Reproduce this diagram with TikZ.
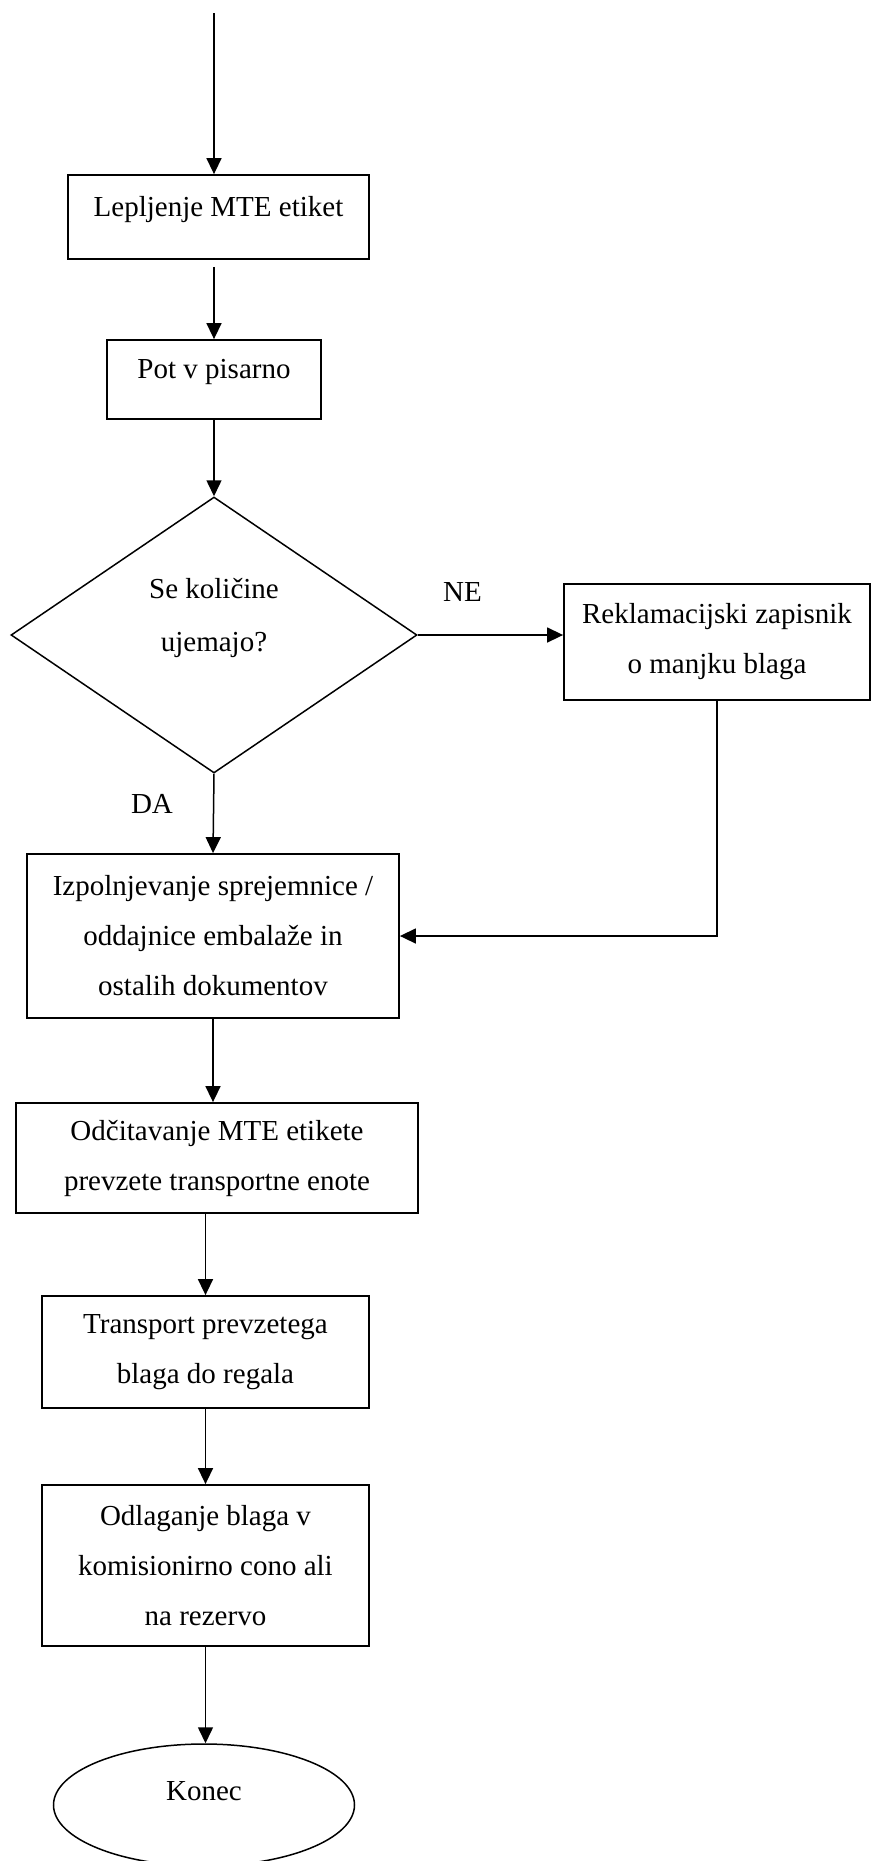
\documentclass[tikz,border=0pt]{standalone}
\usepackage{fontspec}
\setmainfont{Liberation Serif}
\usetikzlibrary{arrows.meta,shapes.geometric}

\begin{document}
\begin{tikzpicture}[x=1pt,y=1pt]
\tikzstyle{every node}+=[inner sep=0pt, font=\fontsize{29}{50}\selectfont, align=center]
\tikzstyle{box}=[draw, rectangle, line width=1.8pt]
\tikzstyle{arr}=[line width=1.5pt, -{Triangle[length=16pt,width=15pt]}]
\useasboundingbox (0,0) rectangle (871,-1861);
\coordinate (start) at (214,-13);
\node [box, minimum width=301pt, minimum height=84pt, text depth=22pt] (lep) at (218.5,-217) {Lepljenje MTE etiket};
\node [box, minimum width=214pt, minimum height=79pt, text depth=21pt] (pot) at (214,-379.5) {Pot v pisarno};
\node [draw, diamond, line width=1.5pt, minimum width=406pt, minimum height=276pt, text depth=41pt] (dia) at (214,-635) {Se količine\\[3pt]ujemajo?};
\node [box, minimum width=306pt, minimum height=116pt] (rek) at (717,-642) {Reklamacijski zapisnik\\o manjku blaga};
\node [box, minimum width=372pt, minimum height=164pt] (izp) at (213,-936) {Izpolnjevanje sprejemnice /\\oddajnice embalaže in\\ostalih dokumentov};
\node [box, minimum width=402pt, minimum height=110pt] (odc) at (217,-1158) {Odčitavanje MTE etikete\\prevzete transportne enote};
\node [box, minimum width=327pt, minimum height=112pt] (tra) at (205.5,-1352) {Transport prevzetega\\blaga do regala};
\node [box, minimum width=327pt, minimum height=161pt] (odl) at (205.5,-1565.5) {Odlaganje blaga v\\komisionirno cono ali\\na rezervo};
\node [draw, ellipse, line width=1.5pt, minimum width=301pt, minimum height=122pt, text depth=29pt] (kon) at (204,-1805) {Konec};
\node [anchor=base] (ne) at (462.5,-601) {NE};
\node [anchor=base] (da) at (152,-813) {DA};
\draw [arr] (start) -- (start |- lep.north);
\draw [arr, shorten <=7pt] (pot.north |- lep.south) -- (pot.north);
\draw [arr] (pot.south) -- (dia.north);
\draw [arr] (dia.east) -- (dia.east -| rek.west);
\draw [arr] (dia.south) -- (izp.north);
\draw [arr] (rek.south) |- (izp.east);
\draw [arr] (izp.south) -- (izp.south |- odc.north);
\draw [arr] (tra.north |- odc.south) -- (tra.north);
\draw [arr] (tra.south) -- (odl.north);
\draw [arr] (odl.south) -- (odl.south |- kon.north);
\end{tikzpicture}
\end{document}
